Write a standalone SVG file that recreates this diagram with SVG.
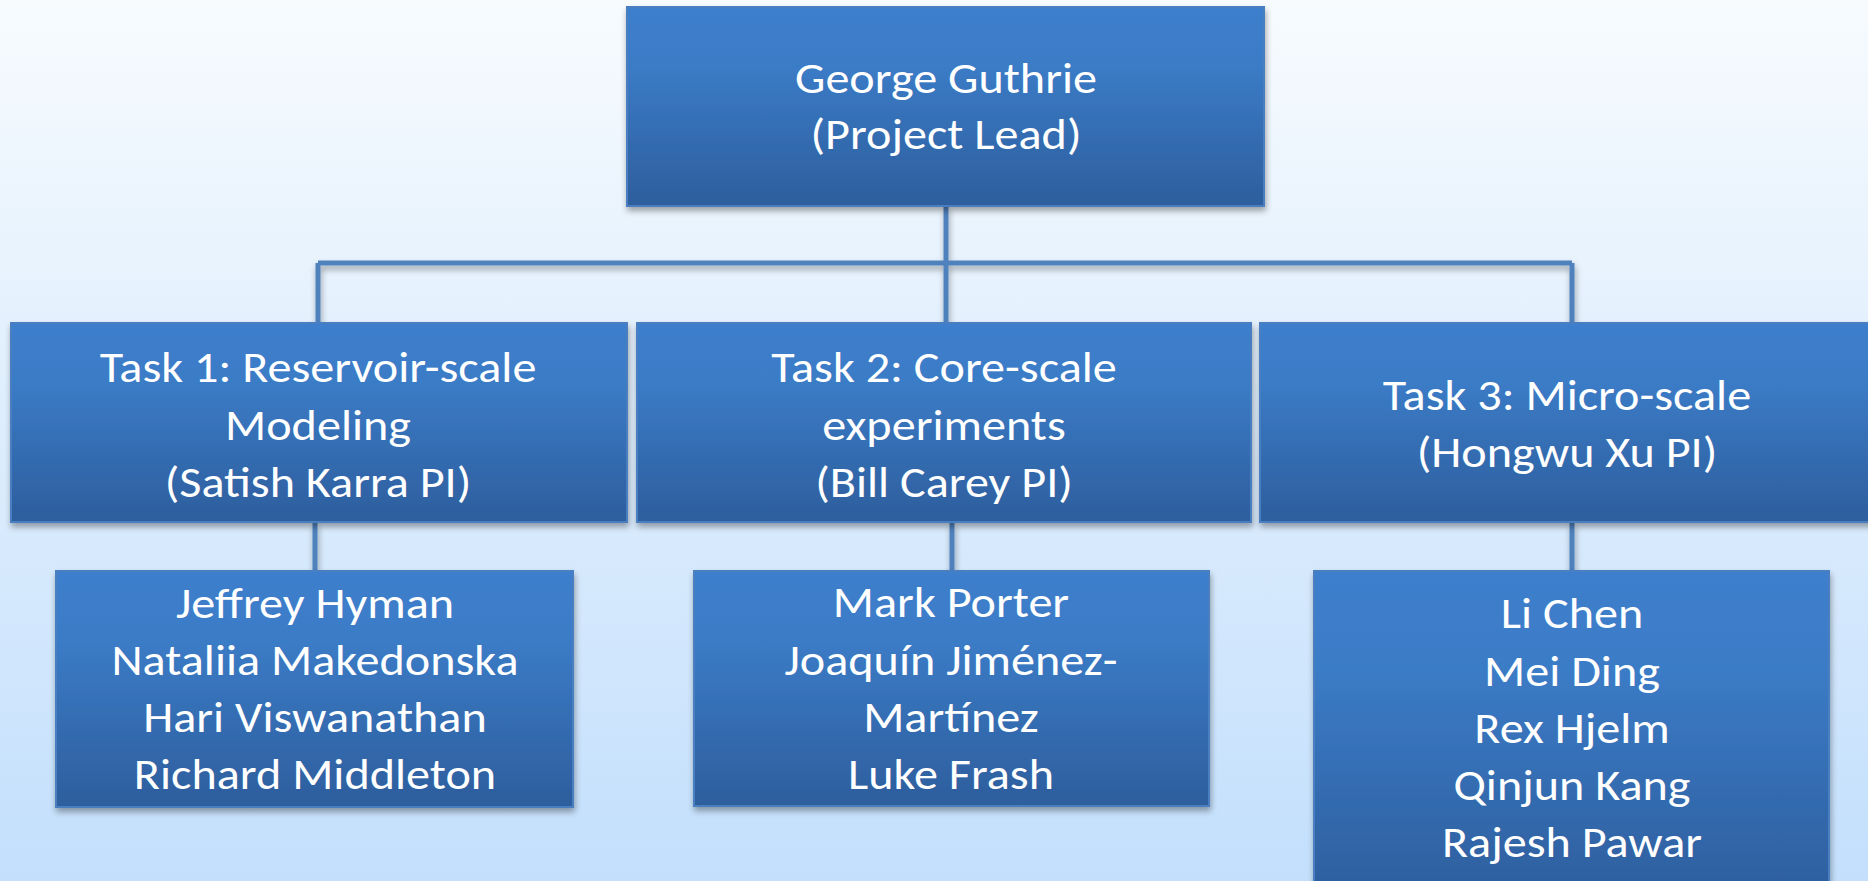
<svg xmlns="http://www.w3.org/2000/svg" width="1868" height="881" viewBox="0 0 1868 881">
<defs>
<linearGradient id="bg" x1="0" y1="0" x2="0" y2="1">
<stop offset="0" stop-color="#f7fbfe"/>
<stop offset="1" stop-color="#c3dffc"/>
</linearGradient>
<linearGradient id="box" x1="0" y1="0" x2="0" y2="1">
<stop offset="0" stop-color="#3d7fcd"/>
<stop offset="0.3" stop-color="#3b7bc6"/>
<stop offset="1" stop-color="#2d5e9d"/>
</linearGradient>
<filter id="sh" x="-5%" y="-5%" width="110%" height="115%">
<feDropShadow dx="1" dy="4" stdDeviation="3" flood-color="#000" flood-opacity="0.35"/>
</filter>
</defs>
<style>
.node rect{fill:url(#box);stroke:#4a7fc0;stroke-width:2;filter:url(#sh)}
.node text{font-family:Carlito,Lato,"Open Sans",sans-serif;font-size:44px;fill:#fff;text-anchor:middle}
.conn path{fill:none;stroke:#4f81bd;stroke-width:5;filter:url(#sh)}
</style>
<rect width="1868" height="881" fill="url(#bg)"/>
<g class="conn">
<path d="M946 206V263M318 263H1572M318 263V324M946 263V324M1572 263V324"/>
<path d="M315 523V572M952 523V572M1572 523V572"/>
</g>
<g id="lead" class="node">
<rect x="627" y="7" width="637" height="199"/>
<g transform="translate(946 0) scale(1.095 1)">
<text x="0" y="93">George Guthrie</text>
<text x="0" y="149">(Project Lead)</text>
</g>
</g>
<g id="task1" class="node">
<rect x="11" y="323" width="616" height="199"/>
<g transform="translate(318 0) scale(1.095 1)">
<text x="0" y="382">Task 1: Reservoir-scale</text>
<text x="0" y="440">Modeling</text>
<text x="0" y="497">(Satish Karra PI)</text>
</g>
</g>
<g id="task2" class="node">
<rect x="637" y="323" width="614" height="199"/>
<g transform="translate(944 0) scale(1.095 1)">
<text x="0" y="382">Task 2: Core-scale</text>
<text x="0" y="440">experiments</text>
<text x="0" y="497">(Bill Carey PI)</text>
</g>
</g>
<g id="task3" class="node">
<rect x="1260" y="323" width="620" height="199"/>
<g transform="translate(1567 0) scale(1.095 1)">
<text x="0" y="410">Task 3: Micro-scale</text>
<text x="0" y="467">(Hongwu Xu PI)</text>
</g>
</g>
<g id="team1" class="node">
<rect x="56" y="571" width="517" height="236"/>
<g transform="translate(315 0) scale(1.095 1)">
<text x="0" y="618">Jeffrey Hyman</text>
<text x="0" y="675">Nataliia Makedonska</text>
<text x="0" y="732">Hari Viswanathan</text>
<text x="0" y="789">Richard Middleton</text>
</g>
</g>
<g id="team2" class="node">
<rect x="694" y="571" width="515" height="235"/>
<g transform="translate(951 0) scale(1.095 1)">
<text x="0" y="617">Mark Porter</text>
<text x="0" y="675">Joaquín Jiménez-</text>
<text x="0" y="732">Martínez</text>
<text x="0" y="789">Luke Frash</text>
</g>
</g>
<g id="team3" class="node">
<rect x="1314" y="571" width="515" height="330"/>
<g transform="translate(1572 0) scale(1.095 1)">
<text x="0" y="628">Li Chen</text>
<text x="0" y="686">Mei Ding</text>
<text x="0" y="743">Rex Hjelm</text>
<text x="0" y="800">Qinjun Kang</text>
<text x="0" y="857">Rajesh Pawar</text>
</g>
</g>
</svg>
